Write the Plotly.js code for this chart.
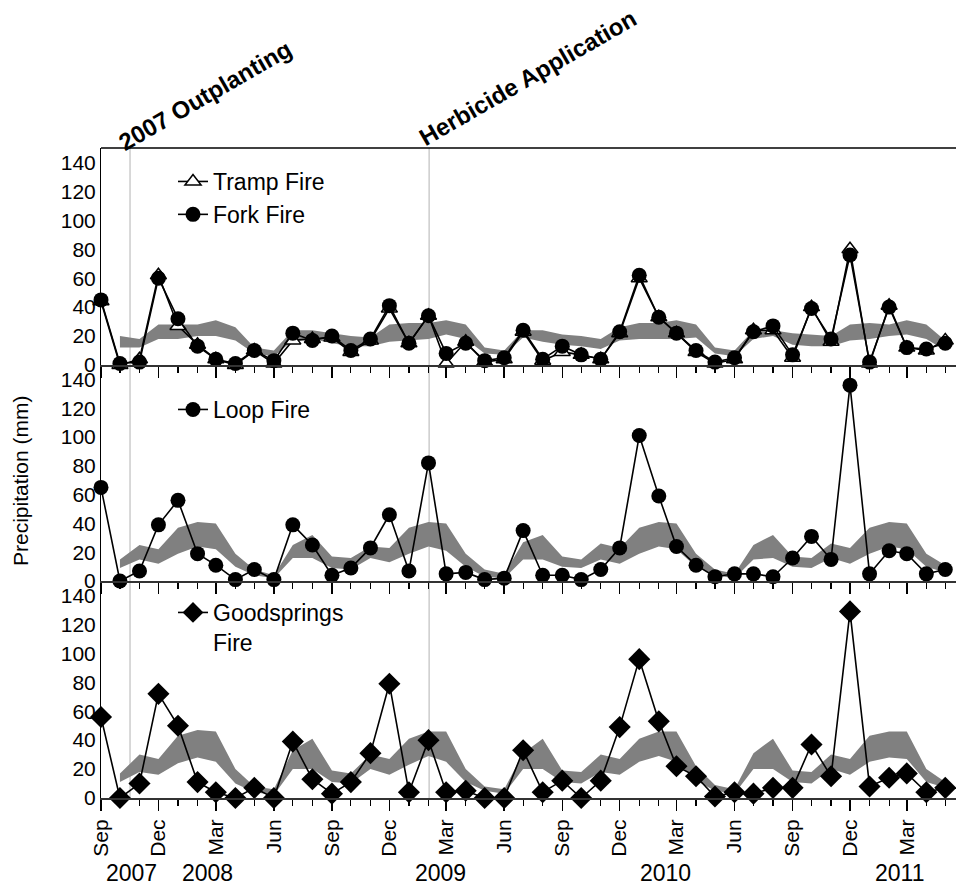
<!DOCTYPE html>
<html>
<head>
<meta charset="utf-8">
<script src="https://cdn.plot.ly/plotly-3.0.1.min.js"></script>
<style>html,body{margin:0;padding:0;background:#fff;}</style>
</head>
<body>
<div id="chart" style="width:956px;height:888px;"></div>
<script>
// Months Sep 2007 - May 2011
var months = ['2007-09-01','2007-10-01','2007-11-01','2007-12-01','2008-01-01','2008-02-01','2008-03-01','2008-04-01','2008-05-01','2008-06-01','2008-07-01','2008-08-01','2008-09-01','2008-10-01','2008-11-01','2008-12-01','2009-01-01','2009-02-01','2009-03-01','2009-04-01','2009-05-01','2009-06-01','2009-07-01','2009-08-01','2009-09-01','2009-10-01','2009-11-01','2009-12-01','2010-01-01','2010-02-01','2010-03-01','2010-04-01','2010-05-01','2010-06-01','2010-07-01','2010-08-01','2010-09-01','2010-10-01','2010-11-01','2010-12-01','2011-01-01','2011-02-01','2011-03-01','2011-04-01','2011-05-01'];

// Monthly precipitation (mm)
var trampFire = [44,0,4,62,27,14,4,0,10,1,17,18,19,9,17,39,15,34,1,16,2,4,23,3,9,7,4,22,60,33,22,9,1,4,24,24,5,40,16,80,1,41,12,10,17];
var forkFire = [45,1,2,60,32,13,4,1,10,3,22,17,20,10,18,41,15,34,8,15,3,5,24,4,13,7,4,23,62,33,22,10,2,5,23,27,7,39,18,76,2,40,12,11,15];
var loopFire = [65,0,7,39,56,19,11,1,8,1,39,25,4,9,23,46,7,82,5,6,1,2,35,4,4,1,8,23,101,59,24,11,3,5,5,3,16,31,15,136,5,21,19,5,8];
var goodspringsFire = [56,0,10,72,50,11,4,0,7,0,39,13,3,11,31,79,4,40,4,5,0,0,33,4,12,0,12,49,96,53,22,15,1,4,3,7,7,37,15,129,8,14,17,4,7];

// Gray range bands (Oct 2007 - May 2011)
var bandMonths = months.slice(1);
var band1Low  = [12,12,18,18,20,20,17,8,6,17,18,15,13,13,16,17,18,21,18,8,7,19,16,14,13,11,17,18,18,18,19,8,6,18,20,14,13,13,17,18,20,21,18,10];
var band1High = [20,18,28,28,28,31,26,12,10,24,24,22,20,19,28,29,29,31,28,12,10,24,24,21,20,18,26,29,29,31,28,12,10,24,24,22,21,20,28,29,28,31,28,17];
var band2Low  = [9,15,12,19,24,22,10,4,2,16,16,9,8,16,13,19,24,21,10,3,2,15,15,10,9,15,12,19,24,22,10,4,2,15,16,10,9,16,12,19,24,22,10,6];
var band2High = [15,25,22,37,41,40,19,8,4,25,32,17,16,24,23,37,41,40,19,8,5,27,32,17,15,26,23,37,41,40,19,8,5,25,32,17,16,26,23,37,41,40,19,11];
var band3Low  = [11,18,16,24,28,25,10,4,2,20,20,11,10,20,16,23,29,25,11,5,3,20,20,11,10,18,16,25,29,25,12,5,3,20,20,11,10,20,16,25,28,27,11,7];
var band3High = [17,30,27,43,47,46,20,8,6,33,41,19,17,30,27,41,46,46,20,8,6,31,41,19,18,30,27,41,46,46,22,9,6,31,41,19,18,30,27,43,46,46,20,11];

var yTicks = [0,20,40,60,80,100,120,140];
var yearLabels = ['2007','2008','2009','2010','2011'];
var yearPos = ['2007-10-20','2008-02-17','2009-02-20','2010-02-12','2011-02-18'];
var events = ['2007 Outplanting','Herbicide Application'];
var eventDates = ['2007-10-17','2009-02-02'];

var FONT = 'Liberation Sans, Arial, sans-serif';

function bandTraces(lo, hi, xa, ya){
  return [
    {x: bandMonths, y: lo, xaxis: xa, yaxis: ya, type:'scatter', mode:'lines', line:{width:0, color:'#808080'}, showlegend:false, hoverinfo:'skip'},
    {x: bandMonths, y: hi, xaxis: xa, yaxis: ya, type:'scatter', mode:'lines', fill:'tonexty', fillcolor:'#808080', line:{width:0, color:'#808080'}, showlegend:false, hoverinfo:'skip'}
  ];
}

var traces = [];
traces = traces.concat(bandTraces(band1Low, band1High, 'x3', 'y3'));
traces = traces.concat(bandTraces(band2Low, band2High, 'x2', 'y2'));
traces = traces.concat(bandTraces(band3Low, band3High, 'x', 'y'));

traces.push({x: months, y: trampFire, xaxis:'x3', yaxis:'y3', type:'scatter', mode:'lines+markers', name:'Tramp Fire', legend:'legend',
  line:{color:'#000', width:1.6}, marker:{symbol:'triangle-up', size:14, color:'#fff', line:{color:'#000', width:1.5}}, cliponaxis:false});
traces.push({x: months, y: forkFire, xaxis:'x3', yaxis:'y3', type:'scatter', mode:'lines+markers', name:'Fork Fire', legend:'legend',
  line:{color:'#000', width:1.6}, marker:{symbol:'circle', size:15, color:'#000'}, cliponaxis:false});
traces.push({x: months, y: loopFire, xaxis:'x2', yaxis:'y2', type:'scatter', mode:'lines+markers', name:'Loop Fire', legend:'legend2',
  line:{color:'#000', width:1.6}, marker:{symbol:'circle', size:15, color:'#000'}, cliponaxis:false});
traces.push({x: months, y: goodspringsFire, xaxis:'x', yaxis:'y', type:'scatter', mode:'lines+markers', name:'Goodsprings<br>Fire', legend:'legend3',
  line:{color:'#000', width:1.6}, marker:{symbol:'diamond', size:17, color:'#000'}, cliponaxis:false});

function xAxis(anchor, showLabels){
  return {
    anchor: anchor, type:'date', range:['2007-09-01','2011-05-18'],
    tickmode:'linear', tick0:'2007-09-01', dtick:'M3', tickformat:'%b', tickangle:-90,
    ticks:'outside', ticklen:11, tickwidth:1.5, tickcolor:'#000',
    minor:{tickmode:'linear', tick0:'2007-09-01', dtick:'M1', ticks:'outside', ticklen:6, tickwidth:1.2, tickcolor:'#000', showgrid:false},
    showline:true, linecolor:'#333', linewidth:2, showgrid:false, zeroline:false,
    showticklabels: showLabels, tickfont:{family:FONT, size:21, color:'#000'}
  };
}
function yAxis(domain){
  return {
    domain: domain, range:[0,150], tickmode:'array', tickvals:yTicks,
    ticks:'', showline:true, linecolor:'#000', linewidth:1, showgrid:false, zeroline:false,
    tickfont:{family:FONT, size:21, color:'#000'}
  };
}

var W = 956, H = 888, L = 101, R = 0, T = 148, B = 90;
function px(xp){ return (xp - L)/(W - L - R); }
function py(yp){ return (H - B - yp)/(H - T - B); }

var annotations = [
  {text:'Precipitation (mm)', xref:'paper', yref:'paper', x: px(20), y: py(481), textangle:-90, showarrow:false,
   xanchor:'center', yanchor:'middle', font:{family:FONT, size:21, color:'#000'}},
  {text:'<b>'+events[0]+'</b>', xref:'paper', yref:'paper', x: px(205), y: py(96), textangle:-30, showarrow:false,
   xanchor:'center', yanchor:'middle', font:{family:FONT, size:24, color:'#000'}},
  {text:'<b>'+events[1]+'</b>', xref:'paper', yref:'paper', x: px(528), y: py(78), textangle:-30, showarrow:false,
   xanchor:'center', yanchor:'middle', font:{family:FONT, size:24, color:'#000'}}
];
for (var i=0;i<yearLabels.length;i++){
  annotations.push({text: yearLabels[i], xref:'x', yref:'paper', x: yearPos[i], y: py(873), showarrow:false,
    xanchor:'center', yanchor:'middle', font:{family:FONT, size:23, color:'#000'}});
}

var shapes = [];
for (var j=0;j<eventDates.length;j++){
  shapes.push({type:'line', xref:'x', yref:'paper', x0: eventDates[j], x1: eventDates[j], y0:0, y1:1, layer:'below',
    line:{color:'#c4c4c4', width:1.3}});
}
shapes.push({type:'line', xref:'paper', yref:'paper', x0:0, x1:1, y0:1, y1:1, line:{color:'#000', width:1.5}});

var legendBase = {bgcolor:'rgba(0,0,0,0)', borderwidth:0, font:{family:FONT, size:23, color:'#000'},
  xanchor:'left', yanchor:'top', valign:'top', traceorder:'normal'};
function legendAt(xp, yp){ var o = JSON.parse(JSON.stringify(legendBase)); o.x = px(xp); o.y = py(yp); return o; }

var layout = {
  width: W, height: H,
  margin:{l:L, r:R, t:T, b:B, pad:0},
  paper_bgcolor:'#fff', plot_bgcolor:'#fff',
  font:{family:FONT, color:'#000'},
  showlegend:true,
  xaxis: xAxis('y', true),
  xaxis2: Object.assign(xAxis('y2', false), {matches:'x'}),
  xaxis3: Object.assign(xAxis('y3', false), {matches:'x'}),
  yaxis: yAxis([0, 0.3338]),
  yaxis2: yAxis([0.3338, 0.6662]),
  yaxis3: yAxis([0.6662, 1]),
  legend: legendAt(173, 160),
  legend2: legendAt(173, 388),
  legend3: legendAt(173, 591),
  annotations: annotations,
  shapes: shapes
};

Plotly.newPlot('chart', traces, layout, {displayModeBar:false, staticPlot:true});
</script>
</body>
</html>
